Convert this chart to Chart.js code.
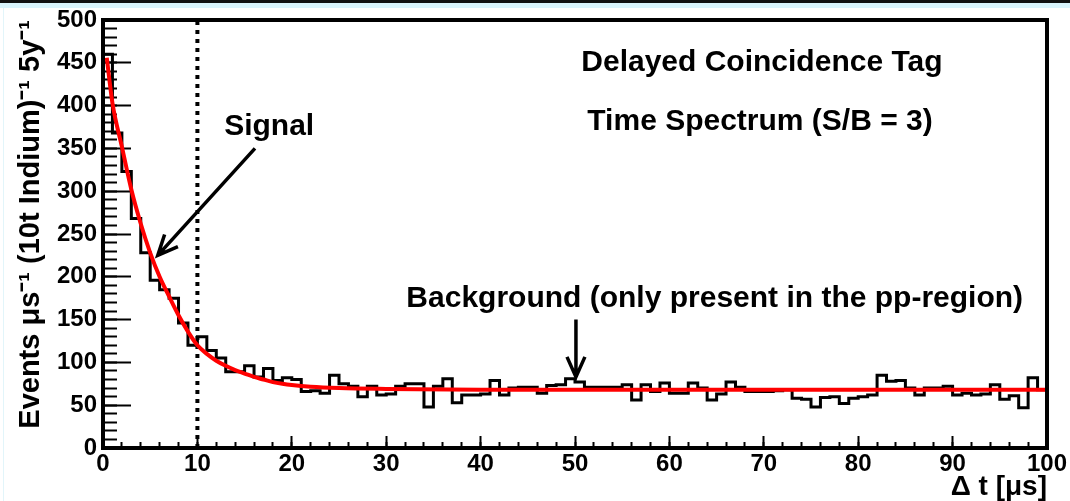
<!DOCTYPE html>
<html>
<head>
<meta charset="utf-8">
<script src="https://cdn.jsdelivr.net/npm/chart.js@4.4.1/dist/chart.umd.min.js"></script>
<style>
  html, body { margin: 0; padding: 0; background: #fff; }
  body { width: 1070px; height: 501px; overflow: hidden; position: relative; }
  canvas { position: absolute; left: 0; top: 0; }
  #bar1 { position: absolute; left: 0; top: 0; width: 1070px; height: 3px; background: #111; }
  #bar2 { position: absolute; left: 0; top: 3px; width: 1070px; height: 5px; background: #d9f4fc; }
  #edge { position: absolute; left: 3px; top: 8px; width: 1px; height: 493px; background: #e2f5fa; }
</style>
</head>
<body>
<canvas id="chart" width="1070" height="501"></canvas>
<div id="bar1"></div><div id="bar2"></div><div id="edge"></div>
<script>
// events per 1 µs bin (0-1, 1-2, ... 99-100)
const counts = [
  460, 368, 323, 268, 228, 196, 185, 175, 146, 120,
  130, 114, 105, 89, 89, 96, 83, 93, 79, 82,
  80, 66, 67, 64, 85, 75, 72, 60, 72, 62,
  63, 72, 75, 75, 48, 72, 81, 53, 62, 62,
  63, 79, 62, 70, 71, 71, 64, 73, 74, 81,
  77, 71, 71, 71, 71, 74, 56, 74, 66, 76,
  64, 64, 76, 70, 56, 63, 77, 71, 66, 66,
  66, 67, 68, 58, 57, 48, 59, 60, 52, 58,
  60, 62, 85, 78, 79, 70, 62, 70, 70, 72,
  62, 64, 62, 63, 74, 57, 61, 47, 82, 68
];
const binWidth = 1;

// red fit curve
const fitX = [0.4, 1, 2, 3, 4, 5, 6, 7, 8, 9, 10, 11, 12, 13, 14, 15, 16, 17, 18, 19, 20, 22, 25, 30, 40, 60, 100];
const fitY = [456, 403, 352, 302, 262, 228, 200, 177, 155, 136, 120, 110, 102, 96, 91, 87, 83, 80, 77, 75, 73.5, 71.5, 70, 69, 68, 68, 68];

const cutTime = 10;   // dotted line
const xTicks = { min: 0, max: 100, major: 10, minor: 2 };
const yTicks = { min: 0, max: 500, major: 50, minor: 10 };

const FONT = '"Liberation Sans", Arial, Helvetica, sans-serif';

// text and arrows, placed in data units
const notes = [
  { text: 'Delayed Coincidence Tag', x: 69.8, y: 450 },
  { text: 'Time Spectrum (S/B = 3)', x: 69.6, y: 381 },
  { text: 'Signal', x: 17.6, y: 375 },
  { text: 'Background (only present in the pp-region)', x: 64.8, y: 174 }
];
const arrows = [
  { x0: 16.1, y0: 350, x1: 5.8, y1: 225 },
  { x0: 50.1, y0: 150, x1: 50.1, y1: 83 }
];

function drawArrow(ctx, x0, y0, x1, y1) {
  const a = Math.atan2(y1 - y0, x1 - x0);
  const len = 22, spread = 0.42;
  ctx.beginPath();
  ctx.moveTo(x0, y0);
  ctx.lineTo(x1, y1);
  ctx.moveTo(x1 - len * Math.cos(a - spread), y1 - len * Math.sin(a - spread));
  ctx.lineTo(x1, y1);
  ctx.lineTo(x1 - len * Math.cos(a + spread), y1 - len * Math.sin(a + spread));
  ctx.stroke();
}

const annotate = {
  id: 'annotate',
  afterDatasetsDraw(chart) {
    const { ctx, chartArea: a, scales: { x, y } } = chart;
    ctx.save();
    ctx.strokeStyle = '#000';
    ctx.lineWidth = 4;
    ctx.strokeRect(a.left, a.top, a.right - a.left, a.bottom - a.top);
    ctx.fillStyle = '#000';
    ctx.font = 'bold 30px ' + FONT;
    ctx.textAlign = 'center';
    ctx.textBaseline = 'middle';
    notes.forEach(n => ctx.fillText(n.text, x.getPixelForValue(n.x), y.getPixelForValue(n.y)));
    ctx.lineWidth = 3.5;
    arrows.forEach(r => drawArrow(ctx,
      x.getPixelForValue(r.x0), y.getPixelForValue(r.y0),
      x.getPixelForValue(r.x1), y.getPixelForValue(r.y1)));
    ctx.restore();
  }
};

const fixWidth = w => s => { s.width = w; s.paddingTop = 0; s.paddingBottom = 0; };
const fixHeight = h => s => { s.height = h; s.paddingLeft = 0; s.paddingRight = 0; };
const tickFont = { family: FONT, size: 24, weight: 'bold' };

const histData = counts.map((c, i) => ({ x: i * binWidth, y: c }));
histData.push({ x: counts.length * binWidth, y: counts[counts.length - 1] });

const ctx = document.getElementById('chart').getContext('2d');
new Chart(ctx, {
  type: 'line',
  data: {
    datasets: [
      {
        label: 'fit',
        data: fitX.map((t, i) => ({ x: t, y: fitY[i] })),
        borderColor: '#ff0000',
        borderWidth: 4,
        pointRadius: 0,
        cubicInterpolationMode: 'monotone',
        order: 0,
      },
      {
        label: 'histogram',
        data: histData,
        stepped: true,
        borderColor: '#000',
        borderWidth: 3,
        pointRadius: 0,
        order: 1,
      },
      {
        label: 'cut',
        data: [{ x: cutTime, y: yTicks.min }, { x: cutTime, y: yTicks.max }],
        borderColor: '#000',
        borderWidth: 4,
        borderDash: [4, 5],
        pointRadius: 0,
        order: 2,
      },
    ],
  },
  options: {
    responsive: false,
    animation: false,
    devicePixelRatio: 1,
    layout: { padding: { top: 20, right: 23, left: 0, bottom: 0 } },
    plugins: { legend: { display: false }, tooltip: { enabled: false } },
    scales: {
      x: {
        type: 'linear', position: 'bottom', weight: 1,
        min: xTicks.min, max: xTicks.max,
        ticks: { stepSize: xTicks.major, font: tickFont, color: '#000', padding: 14, maxRotation: 0, autoSkip: false },
        grid: { drawOnChartArea: false, tickLength: -12, tickWidth: 2, tickColor: '#000' },
        border: { display: false },
        title: {
          display: true, text: 'Δ t [μs]', align: 'end', color: '#000',
          font: { family: FONT, size: 28, weight: 'bold', lineHeight: 1.0 },
          padding: { top: 0, bottom: 0 },
        },
        afterFit: fixHeight(53),
      },
      xMinor: {
        type: 'linear', position: 'bottom', weight: 0,
        min: xTicks.min, max: xTicks.max,
        ticks: { display: false, stepSize: xTicks.minor },
        grid: { drawOnChartArea: false, tickLength: -6, tickWidth: 2, tickColor: '#000' },
        border: { display: false },
        afterFit: fixHeight(0),
      },
      y: {
        type: 'linear', position: 'left', weight: 1,
        min: yTicks.min, max: yTicks.max,
        ticks: { stepSize: yTicks.major, font: tickFont, color: '#000', padding: 34, autoSkip: false },
        grid: { drawOnChartArea: false, tickLength: -28, tickWidth: 2, tickColor: '#000' },
        border: { display: false },
        title: {
          display: true, text: 'Events μs⁻¹ (10t Indium)⁻¹ 5y⁻¹', align: 'end', color: '#000',
          font: { family: FONT, size: 29, weight: 'bold' },
          padding: { top: 14, bottom: 0 },
        },
        afterFit: fixWidth(103),
      },
      yMinor: {
        type: 'linear', position: 'left', weight: 0,
        min: yTicks.min, max: yTicks.max,
        ticks: { display: false, stepSize: yTicks.minor },
        grid: { drawOnChartArea: false, tickLength: -14, tickWidth: 2, tickColor: '#000' },
        border: { display: false },
        afterFit: fixWidth(0),
      },
    },
  },
  plugins: [annotate],
});
</script>
</body>
</html>
